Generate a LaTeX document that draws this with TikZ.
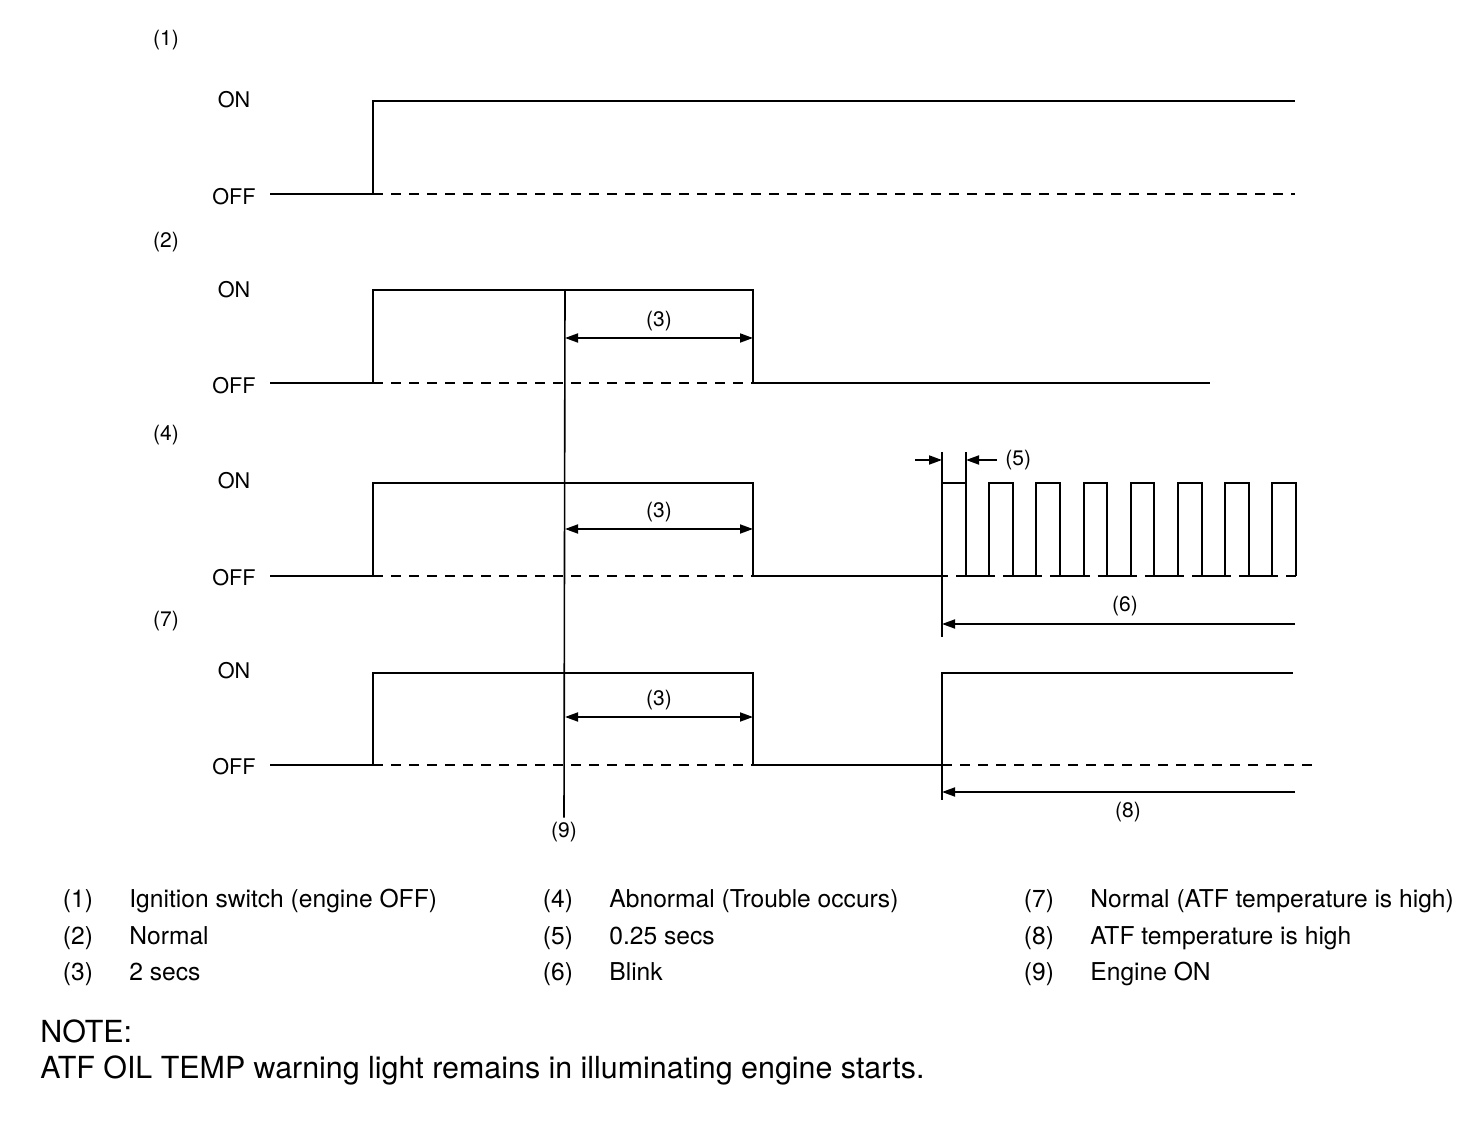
\documentclass[tikz,border=0pt]{standalone}
\usepackage{fontspec}
\setmainfont{TeX Gyre Heros}
\usetikzlibrary{arrows.meta, positioning, calc}

\begin{document}
\begin{tikzpicture}[x=0.5pt, y=-0.5pt,
  sig/.style={line width=1pt, line join=miter},
  offdash/.style={line width=0.9pt, dash pattern=on 5pt off 4pt},
  guide/.style={line width=0.8pt},
  lvl/.style={font=\fontsize{10.8}{12}\selectfont, inner sep=0pt},
  tag/.style={font=\fontsize{10.5}{12}\selectfont, inner sep=0pt},
  dim/.style={line width=0.9pt, {Triangle[length=6.5pt,width=4.5pt]}-{Triangle[length=6.5pt,width=4.5pt]}},
  arr/.style={line width=0.9pt, -{Triangle[length=6.5pt,width=4.5pt]}},
  legnum/.style={font=\fontsize{12.3}{14}\selectfont, inner sep=0pt, anchor=base},
  legtxt/.style={font=\fontsize{12.3}{14}\selectfont, inner sep=0pt, anchor=base west},
  note/.style={font=\fontsize{15.2}{18}\selectfont, inner sep=0pt, anchor=base west}
]
\useasboundingbox (0,0) rectangle (1472,1138);

% row labels
\node[tag] (r1) at (166,40)  {(1)};
\node[tag] (r2) at (166,242) {(2)};
\node[tag] (r4) at (166,435) {(4)};
\node[tag] (r7) at (166,621) {(7)};

\foreach \n/\on/\off in {1/100/197, 2/290/386, 4/481/578, 7/671/767} {
  \node[lvl] (on\n)  at (234,\on)  {ON};
  \node[lvl] (off\n) at (234,\off) {OFF};
}

% (1) ignition switch
\draw[sig] (270,194) -- (373,194) -- (373,101) -- (1295,101);
\draw[offdash] (373,194) -- (1295,194);

% 2 secs pulse, rows (2) (4) (7)
\foreach \on/\off/\dy/\n in {290/383/338/a, 483/576/529/b, 673/765/717/c} {
  \draw[sig] (270,\off) -- (373,\off) -- (373,\on) -- (753,\on) -- (753,\off);
  \draw[offdash] (373,\off) -- (753,\off);
  \coordinate (s\n) at (565,\dy);
  \coordinate (e\n) at (753,\dy);
  \draw[dim] (s\n) -- (e\n);
  \node[tag] (t\n) at ($(s\n)!0.5!(e\n)+(0,-17)$) {(3)};
}

% (2) normal
\draw[sig] (753,383) -- (1210,383);

% (4) abnormal, blink
\draw[sig] (753,576) -- (942,576);
\foreach \k in {0,...,7} {
  \pgfmathsetmacro{\xa}{942+47.2*\k}
  \pgfmathsetmacro{\xb}{\xa+23.6}
  \draw[sig] (\xa,576) -- (\xa,483) -- (\xb,483) -- (\xb,576);
  \draw[offdash, dash phase=2pt] (\xa,576) -- (\xb,576);
}
\foreach \k in {0,...,6} {
  \pgfmathsetmacro{\xb}{942+47.2*\k+23.6}
  \pgfmathsetmacro{\xc}{942+47.2*(\k+1)}
  \draw[sig] (\xb,576) -- (\xc,576);
}

% (7) normal, ATF temp high
\draw[sig] (753,765) -- (942,765) -- (942,673) -- (1293,673);
\draw[offdash] (942,765) -- (1317,765);

% (5) 0.25 secs
\draw[guide] (942,452) -- (942,637);
\draw[guide] (966,452) -- (966,483);
\coordinate (p5a) at (915,460);
\coordinate (p5b) at (942,460);
\coordinate (p5c) at (997,460);
\coordinate (p5d) at (966,460);
\draw[arr] (p5a) -- (p5b);
\draw[arr] (p5c) -- (p5d);
\node[tag, right=4pt of p5c] (t5) {(5)};

% (6) blink
\coordinate (b6a) at (1295,624);
\coordinate (b6b) at (942,624);
\draw[arr] (b6a) -- (b6b);
\node[tag] (t6) at (1125,606) {(6)};

% (8) ATF temperature is high
\draw[guide] (942,673) -- (942,800);
\coordinate (b8a) at (1295,792);
\coordinate (b8b) at (942,792);
\draw[arr] (b8a) -- (b8b);
\node[tag] (t8) at (1128,812) {(8)};

% (9) engine on
\node[tag] (t9) at (564,832) {(9)};
\draw[guide] (565,290) -- ([yshift=2pt]t9.north);

% legend
\foreach \num/\txt/\x/\y in {
  (1)/Ignition switch (engine OFF)/78/907,
  (2)/Normal/78/944,
  (3)/2 secs/78/980,
  (4)/Abnormal (Trouble occurs)/558/907,
  (5)/0.25 secs/558/944,
  (6)/Blink/558/980,
  (7)/Normal (ATF temperature is high)/1039/907,
  (8)/ATF temperature is high/1039/944,
  (9)/Engine ON/1039/980} {
  \node[legnum] at (\x,\y) {\num};
  \node[legtxt] at (\x+51,\y) {\txt};
}

\node[note] (n1) at (40,1042) {NOTE:};
\node[note] (n2) at (40,1078) {ATF OIL TEMP warning light remains in illuminating engine starts.};
\end{tikzpicture}
\end{document}
